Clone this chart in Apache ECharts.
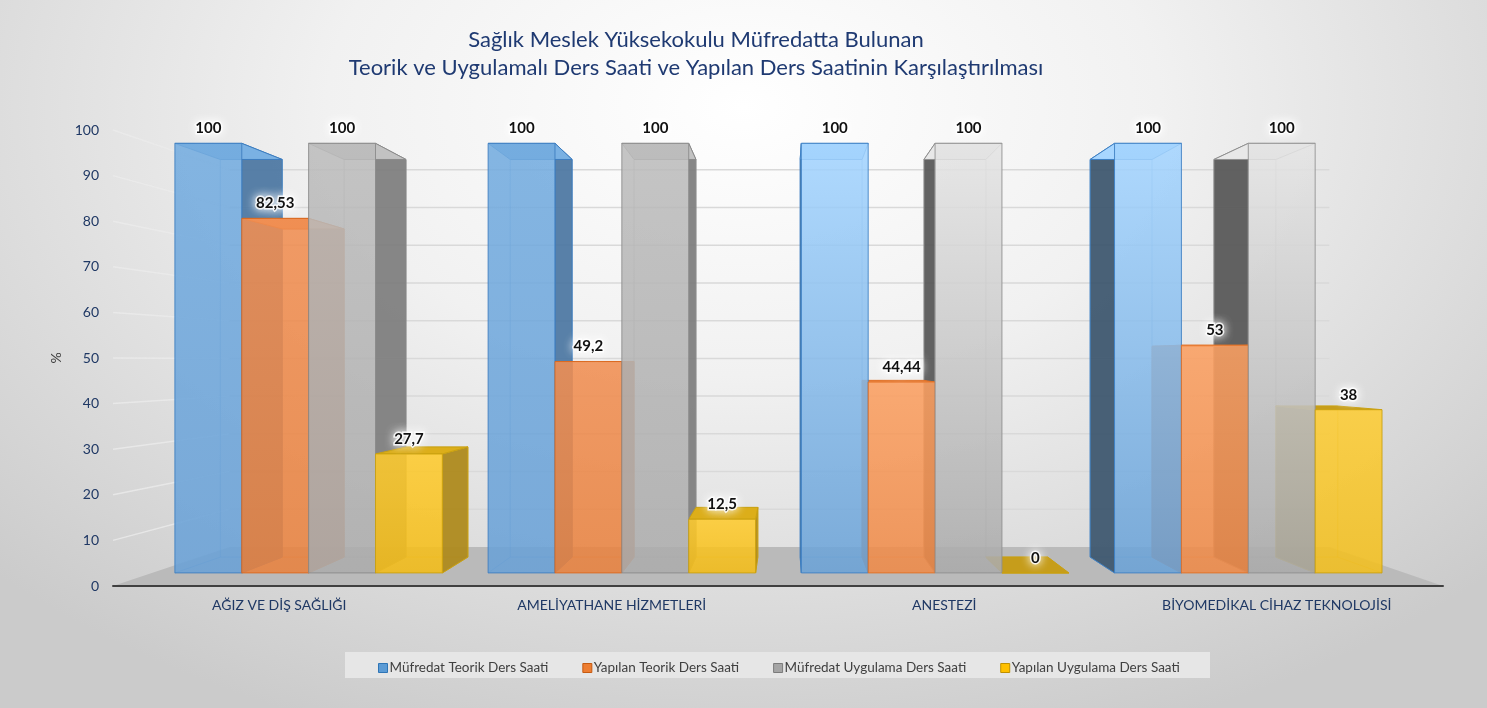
<!DOCTYPE html>
<html>
<head>
<meta charset="UTF-8">
<title>Sağlık Meslek Yüksekokulu Ders Saati Karşılaştırması</title>
<script src="https://cdn.jsdelivr.net/npm/echarts@6/dist/echarts.min.js"></script>
<style>
html, body { margin: 0; padding: 0; }
#chart {
  width: 1487px; height: 708px;
  background: radial-gradient(ellipse 70% 95% at 50% 15%, #ffffff 0%, #f1f1f1 40%, #cbcbcb 100%);
}
</style>
</head>
<body>
<div id="chart"></div>
<script>
// veriler
var categories = ['AĞIZ VE DİŞ SAĞLIĞI', 'AMELİYATHANE HİZMETLERİ', 'ANESTEZİ', 'BİYOMEDİKAL CİHAZ TEKNOLOJİSİ'];
var seriesNames = ['Müfredat Teorik Ders Saati', 'Yapılan Teorik Ders Saati', 'Müfredat Uygulama Ders Saati', 'Yapılan Uygulama Ders Saati'];
var mufredatTeorik = [100, 100, 100, 100];
var yapilanTeorik = [82.53, 49.2, 44.44, 53];
var mufredatUygulama = [100, 100, 100, 100];
var yapilanUygulama = [27.7, 12.5, 0, 38];
var gridValues = [10, 20, 30, 40, 50, 60, 70, 80, 90, 100];

// perspektif ayarları
var KF = 0.942, KB = 0.872, KW = 0.827;
var VP_XF = 0.506, VP_VALUE = 49.5, BAR_FRAC = 0.2135;

var palettes = [
  { near: { front: ['#74acdf', '#6aa1d6'], side: '#4f79a3', top: '#7ab1e3', edge: '#3d7dbf' },
    far:  { front: ['#a4d4fe', '#6ba2d6'], side: '#3f5870', top: '#a8d6ff', edge: '#3d7fc3' } },
  { near: { front: ['#f08e52', '#e8823f'], side: '#c0652e', top: '#f29458', edge: '#d9681f' },
    far:  { front: ['#fa9f61', '#ee8a48'], side: '#c46a32', top: '#f7a063', edge: '#e06f25' } },
  { near: { front: ['#bcbcbc', '#acacac'], side: '#7f7f7f', top: '#c2c2c2', edge: '#8a8a8a' },
    far:  { front: ['#e4e4e4', '#aaaaaa'], side: '#5a5a5a', top: '#e8e8e8', edge: '#8f8f8f' } },
  { near: { front: ['#fdca2e', '#f3bc17'], side: '#ae8a1d', top: '#dcae1a', edge: '#c9a010' },
    far:  { front: ['#fccc35', '#f2bf1f'], side: '#9c7c12', top: '#c69d1b', edge: '#c9a010' } }
];
var legendColors = [['#5b9bd5', '#2e75b6'], ['#ed7d31', '#c55a11'], ['#a5a5a5', '#7b7b7b'], ['#ffc000', '#bf9000']];

function vanish(params, api) {
  var cs = params.coordSys;
  return [cs.x + cs.width * VP_XF, api.coord([0, VP_VALUE])[1]];
}
function proj(vp, x, y, k) {
  return [vp[0] + k * (x - vp[0]), vp[1] + k * (y - vp[1])];
}
function fmt(v) {
  return String(v).replace('.', ',');
}

function makeBarRender(si) {
  return function (params, api) {
    var vp = vanish(params, api);
    var cat = api.value(0), val = api.value(1);
    var c0 = api.coord([cat, 0]), c1 = api.coord([cat, val]);
    var bw = api.size([1, 0])[0] * BAR_FRAC;
    var x0 = c0[0] - 2 * bw + si * bw, x1 = x0 + bw;
    var yb = c0[1], yt = c1[1];
    var fTL = proj(vp, x0, yt, KF), fTR = proj(vp, x1, yt, KF);
    var fBR = proj(vp, x1, yb, KF), fBL = proj(vp, x0, yb, KF);
    var bTL = proj(vp, x0, yt, KB), bTR = proj(vp, x1, yt, KB);
    var bBR = proj(vp, x1, yb, KB), bBL = proj(vp, x0, yb, KB);
    var near = (fTL[0] + fTR[0]) / 2 < vp[0];
    var pal = palettes[si][near ? 'near' : 'far'];
    var side = near ? [fTR, bTR, bBR, fBR] : [fTL, bTL, bBL, fBL];
    return {
      type: 'group',
      children: [
        { type: 'polygon', z2: 1, shape: { points: [bTL, bTR, bBR, bBL] },
          style: { fill: 'none', stroke: pal.edge, lineWidth: 1, opacity: 0.45 } },
        { type: 'polyline', z2: 1, shape: { points: [bBL, fBL] }, style: { stroke: pal.edge, lineWidth: 1, opacity: 0.45 } },
        { type: 'polyline', z2: 1, shape: { points: [bBR, fBR] }, style: { stroke: pal.edge, lineWidth: 1, opacity: 0.45 } },
        { type: 'polygon', z2: 2, shape: { points: side },
          style: { fill: pal.side, stroke: pal.edge, lineWidth: 1, opacity: 0.95 } },
        { type: 'polygon', z2: 3, shape: { points: [fTL, fTR, bTR, bTL] },
          style: { fill: pal.top, stroke: pal.edge, lineWidth: 1 } },
        { type: 'rect', z2: 10,
          shape: { x: fTL[0], y: fTL[1], width: fTR[0] - fTL[0], height: fBL[1] - fTL[1] },
          style: {
            fill: { type: 'linear', x: 0, y: 0, x2: 0, y2: 1,
                    colorStops: [{ offset: 0, color: pal.front[0] }, { offset: 1, color: pal.front[1] }] },
            stroke: pal.edge, lineWidth: 1, opacity: 0.88
          } },
        { type: 'text', z2: 20, x: (fTL[0] + fTR[0]) / 2, y: fTL[1] - 15,
          style: { text: fmt(val), align: 'center', verticalAlign: 'middle',
                   font: 'bold 15px Lato', fill: '#111111',
                   stroke: 'rgba(255,255,255,0.85)', lineWidth: 3,
                   textShadowColor: '#ffffff', textShadowBlur: 10 } }
      ]
    };
  };
}

function floorRender(params, api) {
  var vp = vanish(params, api);
  var cs = params.coordSys;
  var y0 = api.coord([0, 0])[1];
  var L = cs.x, R = cs.x + cs.width;
  return {
    type: 'polygon',
    shape: { points: [proj(vp, L, y0, 1), proj(vp, R, y0, 1), proj(vp, R, y0, KW), proj(vp, L, y0, KW)] },
    style: { fill: '#bababa' }
  };
}

function wallRender(params, api) {
  var vp = vanish(params, api);
  var cs = params.coordSys;
  var y = api.coord([0, api.value(1)])[1];
  var L = cs.x, R = cs.x + cs.width;
  return {
    type: 'group',
    children: [
      { type: 'polyline', shape: { points: [proj(vp, L, y, 1), proj(vp, L, y, KW)] },
        style: { stroke: 'rgba(235,235,235,0.8)', lineWidth: 1.5 } },
      { type: 'polyline', shape: { points: [proj(vp, L, y, KW), proj(vp, R, y, KW)] },
        style: { stroke: '#d9d9d9', lineWidth: 1.5 } }
    ]
  };
}

function pairs(arr) {
  return arr.map(function (v, i) { return [i, v]; });
}

var chart = echarts.init(document.getElementById('chart'));
var barData = [mufredatTeorik, yapilanTeorik, mufredatUygulama, yapilanUygulama];

var series = [
  { type: 'custom', name: 'floor', z: 1, silent: true, renderItem: floorRender,
    data: [[0, 0]], encode: { x: 0, y: 1 } },
  { type: 'custom', name: 'wall', z: 1, silent: true, renderItem: wallRender,
    data: gridValues.map(function (v) { return [0, v]; }), encode: { x: 0, y: 1 } }
];
barData.forEach(function (arr, si) {
  series.push({
    type: 'custom', name: seriesNames[si], z: 2,
    renderItem: makeBarRender(si),
    itemStyle: { color: legendColors[si][0] },
    data: pairs(arr), encode: { x: 0, y: 1 }
  });
});

chart.setOption({
  animation: false,
  textStyle: { fontFamily: 'Lato' },
  graphic: [
    { type: 'text', x: 696, y: 40, style: { text: 'Sağlık Meslek Yüksekokulu Müfredatta Bulunan',
      align: 'center', verticalAlign: 'middle', font: '22px Lato', fill: '#1f3a72' } },
    { type: 'text', x: 696, y: 68, style: { text: 'Teorik ve Uygulamalı Ders Saati ve Yapılan Ders Saatinin Karşılaştırılması',
      align: 'center', verticalAlign: 'middle', font: '22px Lato', fill: '#1f3a72' } },
    { type: 'rect', z: 0, shape: { x: 345, y: 652, width: 865, height: 26 }, style: { fill: '#e6e6e6' } }
  ],
  legend: {
    data: seriesNames.map(function (n, i) {
      return { name: n, itemStyle: { color: legendColors[i][0], borderColor: legendColors[i][1], borderWidth: 1 } };
    }),
    left: 373, top: 656, icon: 'rect', itemWidth: 9, itemHeight: 9, itemGap: 34,
    textStyle: { fontSize: 13.5, color: '#404040', fontFamily: 'Lato', padding: [0, 0, 0, -3] }
  },
  grid: { left: 113, right: 44, top: 130, bottom: 122 },
  xAxis: {
    type: 'category', data: categories, z: 5,
    axisLine: { lineStyle: { color: '#404040', width: 2 } },
    axisTick: { length: 5, lineStyle: { color: '#404040', width: 2 } },
    axisLabel: { fontSize: 14, color: '#1f3864', margin: 12 }
  },
  yAxis: {
    type: 'value', min: 0, max: 100, interval: 10,
    name: '%', nameLocation: 'middle', nameGap: 50, nameRotate: 90,
    nameTextStyle: { fontSize: 14, color: '#404040' },
    axisLine: { show: false }, axisTick: { show: false }, splitLine: { show: false },
    axisLabel: { fontSize: 14, color: '#1f3864', margin: 14 }
  },
  series: series
});
</script>
</body>
</html>
